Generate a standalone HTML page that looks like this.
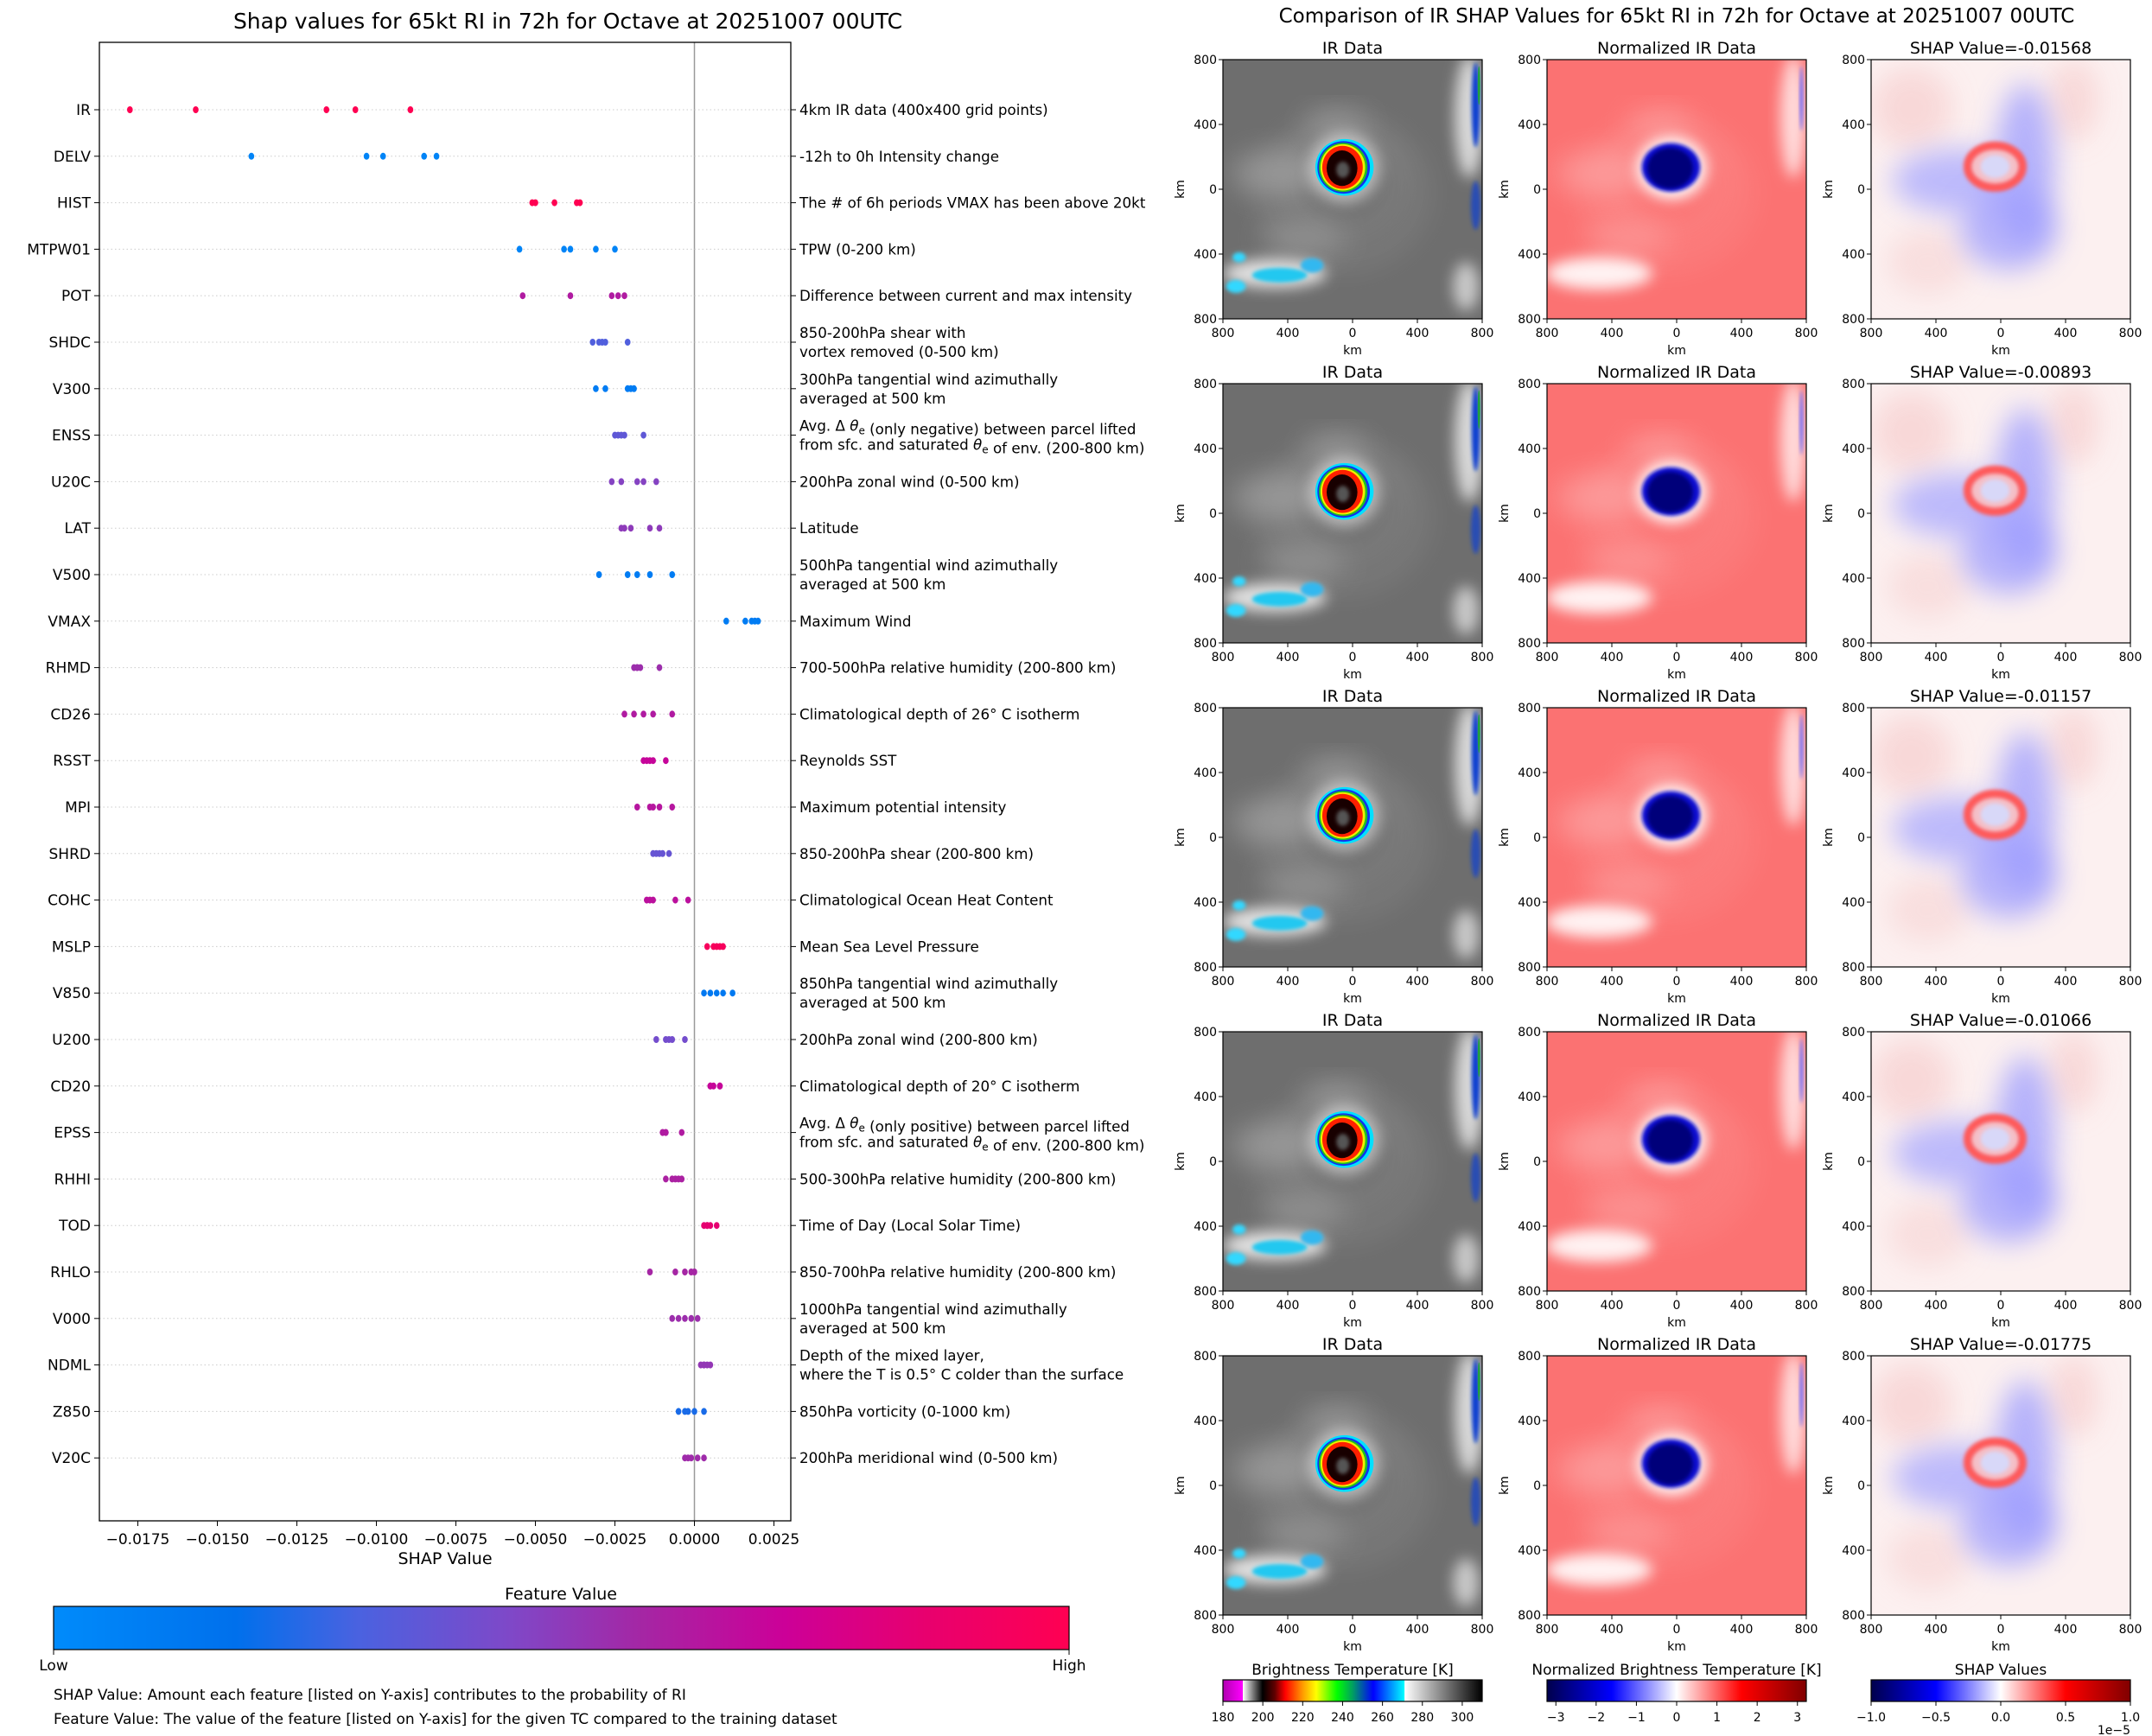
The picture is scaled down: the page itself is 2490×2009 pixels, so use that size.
<!DOCTYPE html>
<html><head><meta charset="utf-8"><style>
html,body{margin:0;padding:0;background:#fff;}
svg{display:block;font-family:"DejaVu Sans","Liberation Sans",sans-serif;}
</style></head><body>
<svg id="fig" width="2490" height="2009" viewBox="0 0 2490 2009" xmlns="http://www.w3.org/2000/svg">
<defs>
<linearGradient id="featgrad" x1="0" x2="1" y1="0" y2="0">
<stop offset="0" stop-color="#008bfb"/><stop offset="0.18" stop-color="#0070ec"/><stop offset="0.3" stop-color="#4a62e0"/><stop offset="0.45" stop-color="#7f48c8"/><stop offset="0.58" stop-color="#a526a4"/><stop offset="0.72" stop-color="#cc0098"/><stop offset="0.86" stop-color="#e8006e"/><stop offset="1" stop-color="#ff0052"/>
</linearGradient>
<linearGradient id="irgrad" x1="0" x2="1" y1="0" y2="0">
<stop offset="0" stop-color="#b000b0"/><stop offset="0.0769" stop-color="#ff00ff"/><stop offset="0.0770" stop-color="#ffffff"/><stop offset="0.153" stop-color="#000000"/><stop offset="0.2" stop-color="#600000"/><stop offset="0.24" stop-color="#ff0000"/><stop offset="0.31" stop-color="#ffa000"/><stop offset="0.36" stop-color="#ffff00"/><stop offset="0.44" stop-color="#00ff00"/><stop offset="0.5" stop-color="#00a060"/><stop offset="0.58" stop-color="#0000ff"/><stop offset="0.7" stop-color="#00ffff"/><stop offset="0.701" stop-color="#ffffff"/><stop offset="1" stop-color="#000000"/>
</linearGradient>
<linearGradient id="seisgrad" x1="0" x2="1" y1="0" y2="0">
<stop offset="0" stop-color="#00004c"/><stop offset="0.25" stop-color="#0000ff"/><stop offset="0.5" stop-color="#ffffff"/><stop offset="0.75" stop-color="#ff0000"/><stop offset="1" stop-color="#800000"/>
</linearGradient>
<filter id="blur8" x="-50%" y="-50%" width="200%" height="200%"><feGaussianBlur stdDeviation="8"/></filter>
<filter id="blur3" x="-50%" y="-50%" width="200%" height="200%"><feGaussianBlur stdDeviation="2"/></filter>
<filter id="blur20" x="-50%" y="-50%" width="200%" height="200%"><feGaussianBlur stdDeviation="16"/></filter>
</defs>
<text x="657" y="33" font-size="25" text-anchor="middle">Shap values for 65kt RI in 72h for Octave at 20251007 00UTC</text>
<text x="1940" y="26" font-size="23" text-anchor="middle">Comparison of IR SHAP Values for 65kt RI in 72h for Octave at 20251007 00UTC</text>
<g id="left"></g>
<g id="right"></g>
<rect x="62" y="1859" width="1175" height="50" fill="url(#featgrad)" stroke="#000" stroke-width="1.2"/>
<text x="649" y="1851" font-size="19" text-anchor="middle">Feature Value</text>
<line x1="62" y1="1909" x2="62" y2="1915" stroke="#000"/>
<line x1="1237" y1="1909" x2="1237" y2="1915" stroke="#000"/>
<text x="62" y="1933" font-size="17" text-anchor="middle">Low</text>
<text x="1237" y="1933" font-size="17" text-anchor="middle">High</text>
<text x="62" y="1967" font-size="17">SHAP Value: Amount each feature [listed on Y-axis] contributes to the probability of RI</text>
<text x="62" y="1995" font-size="17">Feature Value: The value of the feature [listed on Y-axis] for the given TC compared to the training dataset</text>
</svg>
<script>
const NS="http://www.w3.org/2000/svg";
const features=["IR","DELV","HIST","MTPW01","POT","SHDC","V300","ENSS","U20C","LAT","V500","VMAX","RHMD","CD26","RSST","MPI","SHRD","COHC","MSLP","V850","U200","CD20","EPSS","RHHI","TOD","RHLO","V000","NDML","Z850","V20C"];
const descriptions=["4km IR data (400x400 grid points)","-12h to 0h Intensity change","The # of 6h periods VMAX has been above 20kt","TPW (0-200 km)","Difference between current and max intensity","850-200hPa shear with|vortex removed (0-500 km)","300hPa tangential wind azimuthally|averaged at 500 km","Avg. Δ θe (only negative) between parcel lifted|from sfc. and saturated θe of env. (200-800 km)","200hPa zonal wind (0-500 km)","Latitude","500hPa tangential wind azimuthally|averaged at 500 km","Maximum Wind","700-500hPa relative humidity (200-800 km)","Climatological depth of 26° C isotherm","Reynolds SST","Maximum potential intensity","850-200hPa shear (200-800 km)","Climatological Ocean Heat Content","Mean Sea Level Pressure","850hPa tangential wind azimuthally|averaged at 500 km","200hPa zonal wind (200-800 km)","Climatological depth of 20° C isotherm","Avg. Δ θe (only positive) between parcel lifted|from sfc. and saturated θe of env. (200-800 km)","500-300hPa relative humidity (200-800 km)","Time of Day (Local Solar Time)","850-700hPa relative humidity (200-800 km)","1000hPa tangential wind azimuthally|averaged at 500 km","Depth of the mixed layer,|where the T is 0.5° C colder than the surface","850hPa vorticity (0-1000 km)","200hPa meridional wind (0-500 km)"];
const shapValues=[
[-0.01775,-0.01568,-0.01157,-0.01066,-0.00893],
[-0.01393,-0.01031,-0.00979,-0.0085,-0.00811],
[-0.0051,-0.0050,-0.0044,-0.0037,-0.0036],
[-0.0055,-0.0041,-0.0039,-0.0031,-0.0025],
[-0.0054,-0.0039,-0.0026,-0.0024,-0.0022],
[-0.0032,-0.0030,-0.0029,-0.0028,-0.0021],
[-0.0031,-0.0028,-0.0021,-0.0020,-0.0019],
[-0.0025,-0.0024,-0.0023,-0.0022,-0.0016],
[-0.0026,-0.0023,-0.0018,-0.0016,-0.0012],
[-0.0023,-0.0022,-0.0020,-0.0014,-0.0011],
[-0.0030,-0.0021,-0.0018,-0.0014,-0.0007],
[0.0010,0.0016,0.0018,0.0019,0.0020],
[-0.0019,-0.0018,-0.0018,-0.0017,-0.0011],
[-0.0022,-0.0019,-0.0016,-0.0013,-0.0007],
[-0.0016,-0.0015,-0.0014,-0.0013,-0.0009],
[-0.0018,-0.0014,-0.0013,-0.0011,-0.0007],
[-0.0013,-0.0012,-0.0011,-0.0010,-0.0008],
[-0.0015,-0.0014,-0.0013,-0.0006,-0.0002],
[0.0004,0.0006,0.0007,0.0008,0.0009],
[0.0003,0.0005,0.0007,0.0009,0.0012],
[-0.0012,-0.0009,-0.0008,-0.0007,-0.0003],
[0.0005,0.0005,0.0006,0.0008,0.0008],
[-0.0010,-0.0010,-0.0009,-0.0009,-0.0004],
[-0.0009,-0.0007,-0.0006,-0.0005,-0.0004],
[0.0003,0.0004,0.0004,0.0005,0.0007],
[-0.0014,-0.0006,-0.0003,-0.0001,0.0000],
[-0.0007,-0.0005,-0.0003,-0.0001,0.0001],
[0.0002,0.0003,0.0003,0.0004,0.0005],
[-0.0005,-0.0003,-0.0002,0.0000,0.0003],
[-0.0003,-0.0002,-0.0001,0.0001,0.0003]];
const featureLevels=[1,0.05,1,0.05,0.62,0.32,0.1,0.36,0.47,0.5,0.1,0.1,0.55,0.62,0.7,0.64,0.38,0.66,0.95,0.12,0.42,0.7,0.62,0.6,0.85,0.58,0.55,0.52,0.22,0.56];
const xTicks=[-0.0175,-0.015,-0.0125,-0.01,-0.0075,-0.005,-0.0025,0,0.0025];
const xTickLabels=["−0.0175","−0.0150","−0.0125","−0.0100","−0.0075","−0.0050","−0.0025","0.0000","0.0025"];
const panelShap=[-0.01568,-0.00893,-0.01157,-0.01066,-0.01775];
const irTicks=[180,200,220,240,260,280,300];
const normTicks=[-3,-2,-1,0,1,2,3];
const shapTicks=[-1,-0.5,0,0.5,1];
const shapTickLabels=["−1.0","−0.5","0.0","0.5","1.0"];

const AX={l:115,r:915,t:49,b:1760};
function xScale(v){return 803.5+v*36800;}
function yScale(i){return 127+i*53.8;}
const cmapStops=[[0,[0,139,251]],[0.18,[0,112,236]],[0.3,[74,98,224]],[0.45,[127,72,200]],[0.58,[165,38,164]],[0.72,[204,0,152]],[0.86,[232,0,110]],[1,[255,0,82]]];
function cmap(t){for(let i=1;i<cmapStops.length;i++){if(t<=cmapStops[i][0]){const a=cmapStops[i-1],b=cmapStops[i];const f=(t-a[0])/(b[0]-a[0]);return "rgb("+a[1].map((c,k)=>Math.round(c+(b[1][k]-c)*f)).join(",")+")";}}return "rgb(255,0,82)";}
function el(tag,attrs,parent){const e=document.createElementNS(NS,tag);for(const k in attrs)e.setAttribute(k,attrs[k]);parent.appendChild(e);return e;}

const L=document.getElementById("left");
let zl=el("line",{x1:xScale(0),x2:xScale(0),y1:AX.t,y2:AX.b,stroke:"#999","stroke-width":1.5},L);


features.forEach((f,i)=>{
  const y=yScale(i);
  const g=el("line",{x1:AX.l,x2:AX.r,y1:y,y2:y,stroke:"#ccc","stroke-width":1,"stroke-dasharray":"1.5,3"},L);
  
  
  const tl=el("line",{x1:AX.l-6,x2:AX.l,y1:y,y2:y,stroke:"#000"},L);
  
  
  const tr=el("line",{x1:AX.r,x2:AX.r+6,y1:y,y2:y,stroke:"#000"},L);
  
  
  const lab=el("text",{x:AX.l-10,y:y+6,"font-size":17,"text-anchor":"end"},L);
  lab.textContent=f;
  
  
  const parts=descriptions[i].split("|");
  parts.forEach((p,j)=>{
    const yy=parts.length===1?y+6:y-5+j*22;
    const d=el("text",{x:AX.r+10,y:yy,"font-size":16.7},L);
    if(p.indexOf("θe")>=0){
      d.innerHTML=p.replace(/θe/g,'<tspan font-style="italic">θ</tspan><tspan dy="4" font-size="12">e</tspan><tspan dy="-4"></tspan>');
    } else d.textContent=p;
    
    
  });
  shapValues[i].forEach(v=>{
    const c=el("ellipse",{cx:xScale(v),cy:y,rx:3.3,ry:4,fill:cmap(featureLevels[i])},L);
    
    
  });
});
const fr=el("rect",{x:AX.l,y:AX.t,width:AX.r-AX.l,height:AX.b-AX.t,fill:"none",stroke:"#000","stroke-width":1.3},L);


xTicks.forEach((v,i)=>{
  const x=xScale(v);
  const t=el("line",{x1:x,x2:x,y1:AX.b,y2:AX.b+6,stroke:"#000"},L);
  
  
  const tx=el("text",{x:x,y:AX.b+27,"font-size":17,"text-anchor":"middle"},L);
  tx.textContent=xTickLabels[i];
  
  
});
const xt=el("text",{x:(AX.l+AX.r)/2,y:AX.b+50,"font-size":19,"text-anchor":"middle"},L);
xt.textContent="SHAP Value";



const R=document.getElementById("right");
const colX=[1415,1790,2165];
const W=300,H=300;
function kx(x0,k){return x0+(k+800)/1600*W;}
function ky(y0,k){return y0+(800-k)/1600*H;}
let clipN=0;
function panel(ci,ri){
  const x0=colX[ci],y0=69+ri*375;
  const g=el("g",{},R);
  
  
  const cid="clip"+(clipN++);
  const cp=el("clipPath",{id:cid},g);
  el("rect",{x:x0,y:y0,width:W,height:H},cp);
  const img=el("g",{"clip-path":"url(#"+cid+")"},g);
  const s=W/1600;
  const E=(k1,k2,rx,ry,fill,extra)=>{const a={cx:kx(x0,k1),cy:ky(y0,k2),rx:rx*s,ry:ry*s,fill:fill};Object.assign(a,extra||{});return el("ellipse",a,img);};
  const swirl=(col,op)=>{
    E(-60,40,330,300,"none",{stroke:col,"stroke-width":90*s,opacity:op*0.5,filter:"url(#blur20)"});
    E(-60,-20,480,420,"none",{stroke:col,"stroke-width":80*s,opacity:op*0.4,filter:"url(#blur20)"});
    E(-450,100,300,140,col,{opacity:op*0.8,filter:"url(#blur20)"});
    E(-100,400,200,90,col,{opacity:op*0.7,filter:"url(#blur20)"});
    E(-300,-300,260,120,col,{opacity:op*0.6,filter:"url(#blur20)"});
  };
  if(ci===0){
    el("rect",{x:x0,y:y0,width:W,height:H,fill:"#6e6e6e"},img);
    swirl("#a8a8a8",0.8);
    E(-480,-520,320,90,"#e0e0e0",{filter:"url(#blur8)"});
    E(-450,-530,170,45,"#20c8f0",{filter:"url(#blur3)"});
    E(-250,-470,70,45,"#30b8f0",{filter:"url(#blur3)"});
    E(-720,-600,60,40,"#30d8ff",{filter:"url(#blur3)"});
    E(-700,-420,40,30,"#30d8ff",{filter:"url(#blur3)"});
    E(720,450,90,380,"#d8d8d8",{filter:"url(#blur8)"});
    E(760,520,25,260,"#1040d0",{filter:"url(#blur3)"});
    E(780,640,8,120,"#20a040");
    E(760,-100,30,150,"#1040d0",{filter:"url(#blur3)",opacity:0.7});
    E(700,-600,80,150,"#c8c8c8",{filter:"url(#blur8)"});
    E(-50,130,220,215,"#ffffff",{filter:"url(#blur8)",opacity:0.5});
    E(-50,135,180,175,"#00e0ff");
    E(-55,135,162,162,"#1030f0");
    E(-58,135,150,152,"#20c020");
    E(-60,135,138,143,"#f0f000");
    E(-62,135,125,133,"#ff2000");
    E(-65,130,95,110,"#180000");
    E(-60,120,40,50,"#555",{filter:"url(#blur3)"});
  } else if(ci===1){
    el("rect",{x:x0,y:y0,width:W,height:H,fill:"#fb7272"},img);
    swirl("#fdb0b0",0.7);
    E(-480,-520,330,100,"#fff2f2",{filter:"url(#blur8)"});
    E(720,450,80,380,"#ffdada",{filter:"url(#blur8)"});
    E(770,560,10,200,"#6060ff",{filter:"url(#blur3)"});
    E(-30,130,215,190,"#ffffff",{filter:"url(#blur8)"});
    E(-35,135,180,150,"#1010d0",{filter:"url(#blur3)"});
    E(-40,130,140,125,"#00007a",{filter:"url(#blur3)"});
  } else {
    el("rect",{x:x0,y:y0,width:W,height:H,fill:"#fcf0f0"},img);
    E(-550,500,250,250,"#f8d6d6",{filter:"url(#blur20)",opacity:0.9});
    E(450,550,150,250,"#f8d6d6",{filter:"url(#blur20)",opacity:0.9});
    E(-450,-450,250,200,"#f8dada",{filter:"url(#blur20)",opacity:0.8});
    E(150,150,180,500,"#9c9cff",{filter:"url(#blur20)",opacity:0.75});
    E(-250,50,420,200,"#a8a8ff",{filter:"url(#blur20)",opacity:0.75});
    E(50,-250,300,250,"#9a9aff",{filter:"url(#blur20)",opacity:0.7});
    E(-35,140,160,125,"#f4c0c8",{filter:"url(#blur3)"});
    E(-35,140,170,130,"none",{stroke:"#ff5a5a","stroke-width":50*s,filter:"url(#blur3)"});
    E(-35,140,90,70,"#d8d8f8",{filter:"url(#blur3)"});
  }
  const fr=el("rect",{x:x0,y:y0,width:W,height:H,fill:"none",stroke:"#000","stroke-width":1.2},g);
  
  
  const ttl=el("text",{x:x0+W/2,y:y0-7,"font-size":19,"text-anchor":"middle"},g);
  ttl.textContent=ci===0?"IR Data":ci===1?"Normalized IR Data":"SHAP Value="+panelShap[ri].toFixed(5);
  
  
  [800,400,0,-400,-800].forEach(k=>{
    const lbl=String(Math.abs(k));
    const yt=ky(y0,k);
    el("line",{x1:x0-5,x2:x0,y1:yt,y2:yt,stroke:"#000"},g);
    const a=el("text",{x:x0-7,y:yt+5,"font-size":14,"text-anchor":"end"},g);
    a.textContent=lbl;
    
    
    const xt=kx(x0,k);
    el("line",{x1:xt,x2:xt,y1:y0+H,y2:y0+H+5,stroke:"#000"},g);
    const b=el("text",{x:xt,y:y0+H+21,"font-size":14,"text-anchor":"middle"},g);
    b.textContent=lbl;
    
    
  });
  const xl=el("text",{x:x0+W/2,y:y0+H+41,"font-size":14,"text-anchor":"middle"},g);
  xl.textContent="km";
  
  
  const yl=el("text",{x:0,y:0,"font-size":14,"text-anchor":"middle",transform:"translate("+(x0-45)+","+(y0+H/2)+") rotate(-90)"},g);
  yl.textContent="km";
  
  
}
for(let r=0;r<5;r++)for(let c=0;c<3;c++)panel(c,r);

function colorbar(x0,grad,title,ticks,labels,lo,hi,name){
  const g=el("g",{},R);
  
  
  el("rect",{x:x0,y:1944,width:W,height:25,fill:"url(#"+grad+")",stroke:"#000","stroke-width":1.2},g);
  const t=el("text",{x:x0+W/2,y:1938,"font-size":17,"text-anchor":"middle"},g);
  t.textContent=title;
  
  
  ticks.forEach((v,i)=>{
    const x=x0+(v-lo)/(hi-lo)*W;
    el("line",{x1:x,x2:x,y1:1969,y2:1974,stroke:"#000"},g);
    const l=el("text",{x:x,y:1992,"font-size":14,"text-anchor":"middle"},g);
    l.textContent=labels[i];
    
    
  });
}
colorbar(1415,"irgrad","Brightness Temperature [K]",irTicks,irTicks.map(String),180,310,"brightness-temperature-colorbar");
colorbar(1790,"seisgrad","Normalized Brightness Temperature [K]",normTicks,normTicks.map(v=>v<0?"−"+Math.abs(v):String(v)),-3.22,3.22,"normalized-temperature-colorbar");
colorbar(2165,"seisgrad","SHAP Values",shapTicks,shapTickLabels,-1,1,"shap-values-colorbar");
const ex=el("text",{x:2465,y:2007,"font-size":14,"text-anchor":"end"},R);
ex.textContent="1e−5";


</script>
</body></html>
